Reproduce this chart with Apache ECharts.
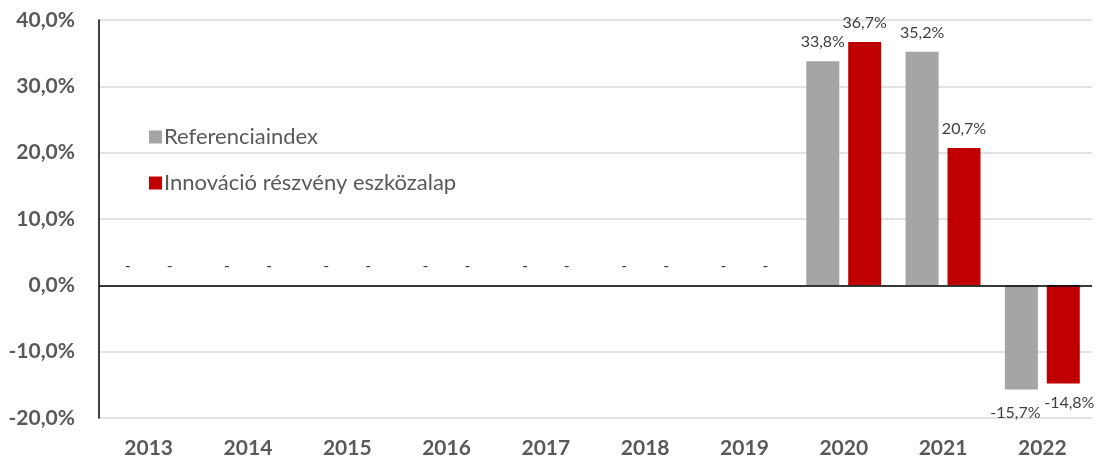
<!DOCTYPE html>
<html>
<head>
<meta charset="utf-8">
<script src="https://cdn.jsdelivr.net/npm/echarts@6/dist/echarts.min.js"></script>
<style>
  html, body { margin: 0; padding: 0; background: #fff; }
  #chart { width: 1101px; height: 459px; }
</style>
</head>
<body>
<div id="chart"></div>
<script>
// évek és hozamok (%), 0 = nincs adat ("-")
const years = ['2013', '2014', '2015', '2016', '2017', '2018', '2019', '2020', '2021', '2022']
const referencia = [0, 0, 0, 0, 0, 0, 0, 33.8, 35.2, -15.7]
const innovacio = [0, 0, 0, 0, 0, 0, 0, 36.7, 20.7, -14.8]
const seriesNames = ['Referenciaindex', 'Innováció részvény eszközalap']

const font = 'Lato, "Open Sans", sans-serif'
const fmt = v => v.toFixed(1).replace('.', ',') + '%'

// negatív értékek címkéje a hasáb alá kerül
const toData = (arr, negLabel) => arr.map(v => {
  if (v < 0) {
    return { value: v, label: Object.assign({ position: 'bottom' }, negLabel) }
  }
  return v
})

const barLabel = {
  show: true,
  position: 'top',
  distance: 11,
  color: '#404040',
  fontSize: 16,
  fontFamily: font,
  formatter: p => (p.value === 0 ? '-' : fmt(p.value))
}

const chart = echarts.init(document.getElementById('chart'))
chart.setOption({
  animation: false,
  grid: { left: 99, right: 9, top: 20, bottom: 41 },
  legend: {
    orient: 'vertical',
    left: 144,
    top: 121,
    itemWidth: 13,
    itemHeight: 13,
    itemGap: 24,
    icon: 'rect',
    data: seriesNames,
    textStyle: { color: '#595959', fontSize: 22, fontFamily: font, padding: [0, 0, 0, -3] }
  },
  xAxis: {
    type: 'category',
    data: years,
    axisLine: { show: false, onZero: false },
    axisTick: { show: false },
    axisLabel: {
      color: '#595959',
      fontSize: 21,
      fontWeight: 'bold',
      fontFamily: font,
      margin: 20
    }
  },
  yAxis: {
    type: 'value',
    min: -20,
    max: 40,
    interval: 10,
    axisLine: { show: true, lineStyle: { color: '#000', width: 1.5 } },
    axisTick: { show: false },
    splitLine: { lineStyle: { color: '#d9d9d9', width: 1.5 } },
    axisLabel: {
      color: '#595959',
      fontSize: 21,
      fontWeight: 'bold',
      fontFamily: font,
      margin: 24,
      formatter: fmt
    }
  },
  series: [
    {
      name: seriesNames[0],
      type: 'bar',
      data: toData(referencia, { distance: 15, offset: [-6, 0] }),
      barWidth: 33,
      barGap: '27%',
      itemStyle: { color: '#a5a5a5' },
      label: barLabel,
      markLine: {
        silent: true,
        symbol: 'none',
        label: { show: false },
        lineStyle: { color: '#000', width: 1.5, type: 'solid' },
        data: [{ yAxis: 0 }]
      }
    },
    {
      name: seriesNames[1],
      type: 'bar',
      data: toData(innovacio, { distance: 11, offset: [6, 0] }),
      barWidth: 33,
      itemStyle: { color: '#c00000' },
      label: barLabel
    }
  ]
})
</script>
</body>
</html>
